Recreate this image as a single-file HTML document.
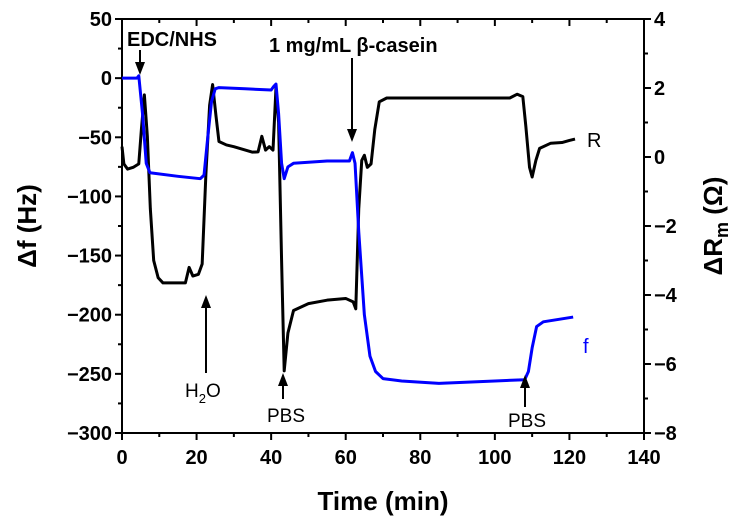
<!DOCTYPE html>
<html><head><meta charset="utf-8"><style>
body{margin:0;background:#fff}
svg{font-family:"Liberation Sans",Arial,sans-serif}
</style></head><body>
<svg id="c" width="745" height="527" viewBox="0 0 745 527" xmlns="http://www.w3.org/2000/svg"></svg>
<script>
const xTicks=[0,20,40,60,80,100,120,140];
const yLeftTicks=[50,0,-50,-100,-150,-200,-250,-300];
const yRightTicks=[4,2,0,-2,-4,-6,-8];
const fTime=[0,4,4.5,5.5,6.5,7.5,15,21,22,23,24,25,26,33,40,40.7,41.3,42,42.8,43.5,44.5,46,55,61,61.8,62.5,63.5,65,66.5,68,70,75,85,100,108,109,110,111.2,113,121];
const fVal=[0,0,2,-30,-72,-80,-83,-85,-82,-50,-20,-9,-8,-9,-10,-7,-5,-30,-72,-85,-75,-72,-70,-70,-63,-72,-130,-200,-235,-248,-254,-256,-258,-256,-255,-248,-228,-210,-206,-202];
const rTime=[0,0.5,1.5,3,4.5,5.2,6,6.8,7.6,8.5,9.7,11,15,17,18,19,20.5,21.5,22.5,23.5,24.3,25.2,26,28,30,35,36.5,37.5,38.5,39.5,40.5,41.3,42,42.8,43.5,44.5,46,50,55,60,62,62.7,63.5,64.3,65,65.8,66.8,67.8,69,71,80,100,104,106,107.5,108.3,109.3,110,111,112,115,118,120,121.5];
const rVal=[0.3,-0.2,-0.35,-0.3,-0.2,0.8,1.8,0.6,-1.5,-3.0,-3.5,-3.65,-3.65,-3.65,-3.2,-3.45,-3.4,-3.1,-0.5,1.5,2.1,1.2,0.45,0.35,0.3,0.14,0.15,0.6,0.2,0.3,0.2,2,1.0,-3,-6.2,-5.1,-4.45,-4.25,-4.15,-4.1,-4.2,-4.4,-1.5,-0.1,0.05,-0.3,-0.2,0.8,1.6,1.71,1.71,1.71,1.71,1.82,1.75,0.9,-0.3,-0.58,-0.1,0.25,0.4,0.42,0.48,0.52];

const X0=122,X1=644,Y0=19,Y1=433;
const sx=t=>X0+(t-0)/140*(X1-X0);
const syL=v=>Y0+(50-v)/350*(Y1-Y0);
const syR=v=>Y0+(4-v)/12*(Y1-Y0);
const svg=document.getElementById('c');
const NS='http://www.w3.org/2000/svg';
function mk(tag,attrs,parent){const e=document.createElementNS(NS,tag);for(const k in attrs)e.setAttribute(k,attrs[k]);(parent||svg).appendChild(e);return e;}
function txt(s,attrs){const e=mk('text',attrs);e.textContent=s;return e;}

const frame=mk('rect',{x:X0,y:Y0,width:X1-X0,height:Y1-Y0,fill:'none',stroke:'#000','stroke-width':2});



for(let t=0;t<=140;t+=10){
  const major=t%20===0;
  const l=mk('line',{x1:sx(t),x2:sx(t),y1:Y1,y2:Y1+(major?7:4),stroke:'#000','stroke-width':2});
  
  
  const l2=mk('line',{x1:sx(t),x2:sx(t),y1:Y0,y2:Y0+(major?7:4),stroke:'#000','stroke-width':2});
  
  
}
xTicks.forEach(t=>{
  const e=txt(String(t),{x:sx(t),y:Y1+31,'text-anchor':'middle','font-size':20,'font-weight':'bold'});
  
  
});
for(let v=-300;v<=50;v+=25){
  const major=v%50===0;
  const l=mk('line',{x1:X0,x2:X0-(major?7:4),y1:syL(v),y2:syL(v),stroke:'#000','stroke-width':2});
  
  
}
yLeftTicks.forEach(v=>{
  const e=txt(String(v).replace('-','\u2212'),{x:X0-10,y:syL(v)+7,'text-anchor':'end','font-size':20,'font-weight':'bold'});
  
  
});
for(let v=-8;v<=4;v+=1){
  const major=v%2===0;
  const l=mk('line',{x1:X1,x2:X1+(major?7:4),y1:syR(v),y2:syR(v),stroke:'#000','stroke-width':2});
  
  
}
yRightTicks.forEach(v=>{
  const e=txt(String(v).replace('-','\u2212'),{x:X1+10,y:syR(v)+7,'text-anchor':'start','font-size':20,'font-weight':'bold'});
  
  
});

let e=txt('Time (min)',{x:(X0+X1)/2,y:510,'text-anchor':'middle','font-size':26,'font-weight':'bold'});


e=txt('\u0394f (Hz)',{x:0,y:0,transform:`translate(36,${(Y0+Y1)/2}) rotate(-90)`,'text-anchor':'middle','font-size':26,'font-weight':'bold'});


e=mk('text',{x:0,y:0,transform:`translate(722,${(Y0+Y1)/2}) rotate(-90)`,'text-anchor':'middle','font-size':26,'font-weight':'bold'});
e.innerHTML='\u0394R<tspan font-size="18" dy="6">m</tspan><tspan dy="-6"> (\u03A9)</tspan>';



const rp=mk('polyline',{points:rTime.map((t,i)=>sx(t)+','+syR(rVal[i])).join(' '),fill:'none',stroke:'#000','stroke-width':3,'stroke-linejoin':'round'});


const fp=mk('polyline',{points:fTime.map((t,i)=>sx(t)+','+syL(fVal[i])).join(' '),fill:'none',stroke:'#0000ff','stroke-width':3,'stroke-linejoin':'round'});



function arrow(x,y1,y2,name){
  const dir=y2>y1?1:-1;
  const g=mk('g',{});
  
  
  mk('line',{x1:x,x2:x,y1:y1,y2:y2-dir*10,stroke:'#000','stroke-width':2},g);
  mk('polygon',{points:`${x-5},${y2-dir*13} ${x+5},${y2-dir*13} ${x},${y2}`,fill:'#000'},g);
}
e=txt('EDC/NHS',{x:127,y:46,'font-size':20,'font-weight':'bold'});


arrow(140,50,75,'edc-nhs-arrow');
e=txt('1 mg/mL \u03B2-casein',{x:269,y:52,'font-size':20,'font-weight':'bold'});


arrow(352,58,142,'casein-arrow');
e=mk('text',{x:185,y:397,'font-size':19});
e.innerHTML='H<tspan font-size="13" dy="6">2</tspan><tspan dy="-6">O</tspan>';


arrow(206,373,295,'h2o-arrow');
e=txt('PBS',{x:286,y:422,'text-anchor':'middle','font-size':19});


arrow(283,399,373,'pbs-arrow-1');
e=txt('PBS',{x:527,y:427,'text-anchor':'middle','font-size':19});


arrow(525,407,375,'pbs-arrow-2');
e=txt('R',{x:587,y:147,'font-size':20});


e=txt('f',{x:583,y:353,'font-size':20,fill:'#0000ff'});


</script>
</body></html>
